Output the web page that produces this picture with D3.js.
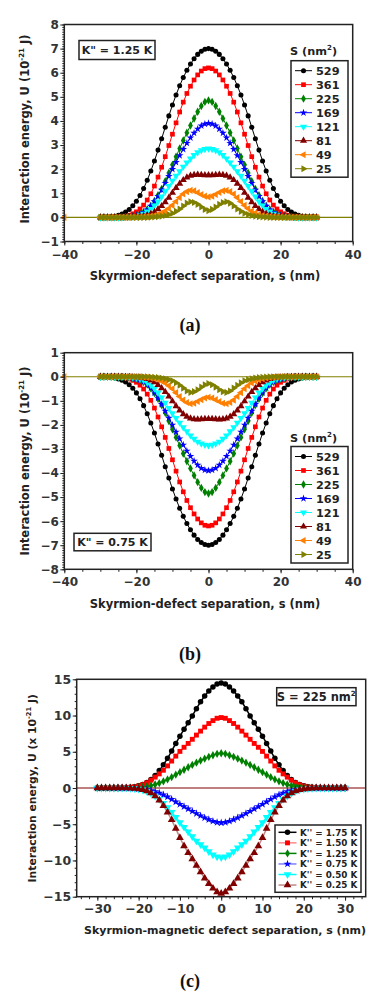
<!DOCTYPE html>
<html><head><meta charset="utf-8">
<script src="https://cdn.jsdelivr.net/npm/d3@7"></script>
<style>
body{margin:0;background:#fff}
svg{display:block}
text{font-family:"DejaVu Sans",sans-serif;font-weight:bold}
text.cap{font-family:"Liberation Serif","Times New Roman",serif;font-weight:bold}
</style>
</head><body>
<svg id="fig" width="392" height="1008"></svg>
<script>
// ---------------- DATA ----------------
// sample positions (nm): -30..30, 1 nm step; half arrays give s = 0..30 (curves are symmetric)
const separation = d3.range(-30, 31);
const areaLabels = ["529", "361", "225", "169", "121", "81", "49", "25"];

// Panel (a): K'' = 1.25 K, U in 1e-21 J, values at s = 0,1,...,30
const a529 = [7.00,6.97,6.89,6.76,6.58,6.36,6.10,5.80,5.46,5.08,4.66,4.21,3.74,3.26,2.79,2.34,1.92,1.54,1.20,0.91,0.67,0.48,0.33,0.22,0.14,0.09,0.05,0.03,0.02,0.01,0.00];
const a361 = [6.20,6.17,6.07,5.91,5.70,5.44,5.14,4.78,4.37,3.92,3.45,2.98,2.52,2.08,1.67,1.30,0.98,0.72,0.51,0.35,0.23,0.15,0.09,0.05,0.03,0.02,0.01,0,0,0,0];
const a225 = [4.85,4.79,4.62,4.38,4.10,3.81,3.51,3.19,2.86,2.52,2.18,1.84,1.50,1.18,0.92,0.68,0.48,0.33,0.22,0.14,0.08,0.05,0.03,0.02,0.01,0,0,0,0,0,0];
const a169 = [3.90,3.87,3.80,3.67,3.50,3.30,3.08,2.83,2.57,2.29,2.00,1.71,1.42,1.14,0.88,0.66,0.47,0.32,0.21,0.13,0.08,0.04,0.02,0.01,0,0,0,0,0,0,0];
const a121 = [2.85,2.83,2.78,2.70,2.58,2.44,2.27,2.10,1.91,1.72,1.52,1.30,1.08,0.86,0.66,0.49,0.35,0.24,0.15,0.09,0.05,0.03,0.02,0.01,0,0,0,0,0,0,0];
const a81  = [1.75,1.75,1.76,1.77,1.76,1.73,1.66,1.55,1.40,1.22,1.02,0.82,0.63,0.47,0.34,0.23,0.15,0.09,0.06,0.03,0.02,0.01,0,0,0,0,0,0,0,0,0];
const a49  = [0.85,0.88,0.95,1.03,1.10,1.12,1.07,0.97,0.82,0.66,0.50,0.37,0.26,0.18,0.12,0.08,0.05,0.03,0.02,0.01,0,0,0,0,0,0,0,0,0,0,0];
const a25  = [0.28,0.33,0.43,0.54,0.62,0.65,0.59,0.47,0.35,0.25,0.17,0.12,0.08,0.05,0.03,0.02,0.01,0,0,0,0,0,0,0,0,0,0,0,0,0,0];

// Panel (b): K'' = 0.75 K
const b529 = [-7.00,-6.97,-6.89,-6.76,-6.58,-6.36,-6.10,-5.80,-5.46,-5.08,-4.66,-4.21,-3.74,-3.26,-2.79,-2.34,-1.92,-1.54,-1.20,-0.91,-0.67,-0.48,-0.33,-0.22,-0.14,-0.09,-0.05,-0.03,-0.02,-0.01,0];
const b361 = [-6.20,-6.17,-6.07,-5.91,-5.70,-5.44,-5.14,-4.78,-4.37,-3.92,-3.45,-2.98,-2.52,-2.08,-1.67,-1.30,-0.98,-0.72,-0.51,-0.35,-0.23,-0.15,-0.09,-0.05,-0.03,-0.02,-0.01,0,0,0,0];
const b225 = [-4.85,-4.79,-4.62,-4.38,-4.10,-3.81,-3.51,-3.19,-2.86,-2.52,-2.18,-1.84,-1.50,-1.18,-0.92,-0.68,-0.48,-0.33,-0.22,-0.14,-0.08,-0.05,-0.03,-0.02,-0.01,0,0,0,0,0,0];
const b169 = [-3.90,-3.87,-3.80,-3.67,-3.50,-3.30,-3.08,-2.83,-2.57,-2.29,-2.00,-1.71,-1.42,-1.14,-0.88,-0.66,-0.47,-0.32,-0.21,-0.13,-0.08,-0.04,-0.02,-0.01,0,0,0,0,0,0,0];
const b121 = [-2.85,-2.83,-2.78,-2.70,-2.58,-2.44,-2.27,-2.10,-1.91,-1.72,-1.52,-1.30,-1.08,-0.86,-0.66,-0.49,-0.35,-0.24,-0.15,-0.09,-0.05,-0.03,-0.02,-0.01,0,0,0,0,0,0,0];
const b81  = [-1.75,-1.75,-1.76,-1.77,-1.76,-1.73,-1.66,-1.55,-1.40,-1.22,-1.02,-0.82,-0.63,-0.47,-0.34,-0.23,-0.15,-0.09,-0.06,-0.03,-0.02,-0.01,0,0,0,0,0,0,0,0,0];
const b49  = [-0.85,-0.88,-0.95,-1.03,-1.10,-1.12,-1.07,-0.97,-0.82,-0.66,-0.50,-0.37,-0.26,-0.18,-0.12,-0.08,-0.05,-0.03,-0.02,-0.01,0,0,0,0,0,0,0,0,0,0,0];
const b25  = [-0.28,-0.33,-0.43,-0.54,-0.62,-0.65,-0.59,-0.47,-0.35,-0.25,-0.17,-0.12,-0.08,-0.05,-0.03,-0.02,-0.01,0,0,0,0,0,0,0,0,0,0,0,0,0,0];

// Panel (c): S = 225 nm^2, various K''
const kLabels = ["K'' = 1.75 K", "K'' = 1.50 K", "K'' = 1.25 K", "K'' = 0.75 K", "K'' = 0.50 K", "K'' = 0.25 K"];
const c175 = [14.50,14.35,13.95,13.40,12.70,11.90,10.95,9.95,9.00,8.10,7.15,6.15,5.10,4.10,3.20,2.40,1.72,1.18,0.76,0.48,0.30,0.18,0.10,0.06,0.03,0.02,0.01,0,0,0,0];
const c150 = [9.72,9.62,9.30,8.90,8.40,7.85,7.30,6.72,6.15,5.62,5.05,4.40,3.72,3.05,2.45,1.95,1.50,1.08,0.72,0.46,0.28,0.16,0.09,0.05,0.03,0.01,0,0,0,0,0];
const c125 = [4.80,4.72,4.52,4.30,4.05,3.78,3.50,3.18,2.86,2.52,2.18,1.84,1.50,1.18,0.92,0.68,0.48,0.33,0.22,0.14,0.08,0.05,0.03,0.02,0.01,0,0,0,0,0,0];
const c075 = [-4.80,-4.74,-4.58,-4.36,-4.10,-3.82,-3.52,-3.20,-2.88,-2.56,-2.24,-1.90,-1.55,-1.22,-0.94,-0.70,-0.50,-0.34,-0.22,-0.13,-0.07,-0.04,-0.02,-0.01,0,0,0,0,0,0,0];
const c050 = [-9.60,-9.50,-9.20,-8.75,-8.25,-7.80,-7.30,-6.70,-6.05,-5.40,-4.75,-4.05,-3.35,-2.70,-2.10,-1.55,-1.10,-0.72,-0.44,-0.25,-0.13,-0.06,-0.03,-0.01,0,0,0,0,0,0,0];
const c025 = [-14.55,-14.35,-13.85,-13.20,-12.45,-11.60,-10.70,-9.80,-8.95,-8.00,-6.85,-5.60,-4.40,-3.35,-2.45,-1.70,-1.12,-0.70,-0.42,-0.24,-0.13,-0.07,-0.03,-0.01,0,0,0,0,0,0,0];

// ticks
const xTicksAB = [-40, -20, 0, 20, 40];
const xMinorAB = d3.range(-40, 41, 5);
const yTicksA = d3.range(-1, 9);
const yTicksB = d3.range(-8, 2);
const xTicksC = [-30, -20, -10, 0, 10, 20, 30];
const xMinorC = d3.range(-34, 35, 2);
const yTicksC = [-15, -10, -5, 0, 5, 10, 15];
const yMinorC = d3.range(-15, 16, 1);
const edgePointA = [-40]; // extra zero-valued point of the 49 nm^2 series at the plot edge

// ---------------- STYLES ----------------
const colorsAB = ["#000000", "#ff0000", "#008000", "#0000ff", "#00ffff", "#800000", "#ff8000", "#808000"];
const symsAB = [
  {t: d3.symbolCircle, s: 20, r: 0}, {t: d3.symbolSquare, s: 22, r: 0},
  {t: d3.symbolDiamond, s: 20, r: 0}, {t: d3.symbolStar, s: 18, r: 0},
  {t: d3.symbolTriangle, s: 22, r: 180}, {t: d3.symbolTriangle, s: 22, r: 0},
  {t: d3.symbolTriangle, s: 22, r: -90}, {t: d3.symbolTriangle, s: 22, r: 90}
];
const colorsC = ["#000000", "#ff0000", "#008000", "#0000ff", "#00ffff", "#800000"];
const lineColorsC = ["#000000", "#ff8a8a", "#008000", "#7f7fff", "#00ffff", "#c08a8a"];
const symsC = [
  {t: d3.symbolCircle, s: 24, r: 0}, {t: d3.symbolSquare, s: 24, r: 0},
  {t: d3.symbolDiamond, s: 20, r: 0}, {t: d3.symbolStar, s: 20, r: 0},
  {t: d3.symbolTriangle, s: 26, r: 180}, {t: d3.symbolTriangle, s: 26, r: 0}
];

const svg = d3.select("#fig");
const mirror = h => h.slice(1).reverse().concat(h);

function rich(sel, parts, fs) {
  parts.forEach(p => {
    const ts = sel.append("tspan").text(p.t);
    if (p.sup) ts.attr("font-size", fs * 0.62).attr("dy", -fs * 0.4);
    else if (p.after) ts.attr("dy", fs * 0.4);
  });
}

function drawSeries(g, x, y, ys, color, lineColor, lw, sym) {
  const line = d3.line().x((d, i) => x(separation[i])).y(d => y(d));
  g.append("path").attr("d", line(ys)).attr("fill", "none")
    .attr("stroke", lineColor).attr("stroke-width", lw);
  const p = d3.symbol(sym.t, sym.s)();
  g.append("g").selectAll("path").data(ys).join("path")
    .attr("d", p).attr("fill", color)
    .attr("transform", (d, i) => `translate(${x(separation[i])},${y(d)}) rotate(${sym.r})`);
}

function axes(cfg, x, y) {
  const g = svg.append("g");
  const fs = cfg.tickFs;
  const xa = g.append("g").attr("transform", `translate(0,${cfg.bottom})`)
    .call(d3.axisBottom(x).tickValues(cfg.xTicks).tickSize(4).tickPadding(cfg.xPad).tickFormat(d3.format("d")));
  const xm = g.append("g").attr("transform", `translate(0,${cfg.bottom})`)
    .call(d3.axisBottom(x).tickValues(cfg.xMinor).tickSize(2.5).tickFormat(""));
  const ya = g.append("g").attr("transform", `translate(${cfg.left},0)`)
    .call(d3.axisLeft(y).tickValues(cfg.yTicks).tickSize(4).tickPadding(1.5).tickFormat(d3.format("d")));
  const ym = g.append("g").attr("transform", `translate(${cfg.left},0)`)
    .call(d3.axisLeft(y).tickValues(cfg.yMinor).tickSize(2).tickFormat(""));
  [xa, xm, ya, ym].forEach(a => {
    a.select(".domain").remove();
    a.selectAll("line").attr("stroke", "#222").attr("stroke-width", 1);
    a.selectAll("text").attr("font-size", fs).attr("fill", "#333")
      .attr("font-family", "DejaVu Sans").attr("font-weight", "bold");
  });
  svg.append("rect").attr("x", cfg.left).attr("y", cfg.top)
    .attr("width", cfg.right - cfg.left).attr("height", cfg.bottom - cfg.top)
    .attr("fill", "none").attr("stroke", "#222").attr("stroke-width", 1.5);
}

function caption(txt, cx, cy) {
  svg.append("text").attr("class", "cap").attr("x", cx).attr("y", cy).attr("text-anchor", "middle")
    .attr("font-size", 18).attr("fill", "#111").text(txt);
}

// ---------------- PANEL (a) & (b) ----------------
function panelAB(cfg) {
  const x = d3.scaleLinear().domain([-40, 40]).range([cfg.left, cfg.right]);
  const y = d3.scaleLinear().domain(cfg.yDomain).range([cfg.bottom, cfg.top]);
  const g = svg.append("g");
  g.append("line").attr("x1", x(-40)).attr("x2", x(40)).attr("y1", y(0)).attr("y2", y(0))
    .attr("stroke", "#808000").attr("stroke-width", 1.2);
  g.selectAll(".edge").data(edgePointA).join("path")
    .attr("d", d3.symbol(symsAB[6].t, symsAB[6].s)()).attr("fill", colorsAB[6])
    .attr("transform", d => `translate(${x(d)},${y(0)}) rotate(-90)`);
  cfg.series.forEach((h, i) => drawSeries(g, x, y, mirror(h), colorsAB[i], colorsAB[i], 1, symsAB[i]));
  axes({left: cfg.left, right: cfg.right, top: cfg.top, bottom: cfg.bottom, xTicks: xTicksAB, xMinor: xMinorAB,
        yTicks: cfg.yTicks, yMinor: cfg.yMinor, tickFs: 12, xPad: 4.5}, x, y);

  const yt = svg.append("text").attr("transform", `translate(${cfg.yTitleX},${cfg.yTitleY}) rotate(-90)`)
    .attr("text-anchor", "middle").attr("font-size", 11.5).attr("fill", "#222");
  rich(yt, [{t: "Interaction energy, U (10"}, {t: "-21", sup: true}, {t: " J)", after: true}], 11.5);
  svg.append("text").attr("x", cfg.xTitleX).attr("y", cfg.xTitleY).attr("text-anchor", "middle")
    .attr("font-size", 11.5).attr("fill", "#222").text("Skyrmion-defect separation, s (nm)");

  svg.append("rect").attr("x", cfg.kBox[0]).attr("y", cfg.kBox[1]).attr("width", cfg.kBox[2]).attr("height", cfg.kBox[3])
    .attr("fill", "#fff").attr("stroke", "#222").attr("stroke-width", 1.5);
  svg.append("text").attr("x", cfg.kBox[0] + cfg.kBox[2] / 2).attr("y", cfg.kBox[1] + cfg.kBox[3] / 2 + 4)
    .attr("text-anchor", "middle").attr("font-size", 11).attr("fill", "#222").text(cfg.kText);

  const lt = svg.append("text").attr("x", 313.5).attr("y", cfg.legTitleY).attr("text-anchor", "middle")
    .attr("font-size", 11.3).attr("fill", "#222");
  rich(lt, [{t: "S (nm"}, {t: "2", sup: true}, {t: ")", after: true}], 11.3);
  svg.append("rect").attr("x", 291).attr("y", cfg.legTop).attr("width", 57).attr("height", 116.5)
    .attr("fill", "#fff").attr("stroke", "#222").attr("stroke-width", 1.5);
  const lg = svg.append("g");
  areaLabels.forEach((lab, i) => {
    const yy = cfg.legTop + 10 + i * 14;
    lg.append("line").attr("x1", 295).attr("x2", 312).attr("y1", yy).attr("y2", yy)
      .attr("stroke", colorsAB[i]).attr("stroke-width", 1);
    lg.append("path").attr("d", d3.symbol(symsAB[i].t, symsAB[i].s)()).attr("fill", colorsAB[i])
      .attr("transform", `translate(303.5,${yy}) rotate(${symsAB[i].r})`);
    lg.append("text").attr("x", 316).attr("y", yy + 4).attr("font-size", 11.3).attr("fill", "#222").text(lab);
  });
  caption(cfg.cap, 190, cfg.capY);
}

panelAB({left: 64.3, right: 352.7, top: 24.5, bottom: 241.5, yDomain: [-1, 8], yTicks: yTicksA,
  yMinor: d3.range(-10, 81).map(v => v / 10),
  series: [a529, a361, a225, a169, a121, a81, a49, a25],
  yTitleX: 29, yTitleY: 129, xTitleX: 205, xTitleY: 279.5,
  kBox: [79, 40.5, 76, 19], kText: 'K" = 1.25 K',
  legTitleY: 54.5, legTop: 60.7, cap: "(a)", capY: 331});

panelAB({left: 64.3, right: 352.7, top: 352.7, bottom: 569.3, yDomain: [-8, 1], yTicks: yTicksB,
  yMinor: d3.range(-80, 11).map(v => v / 10),
  series: [b529, b361, b225, b169, b121, b81, b49, b25],
  yTitleX: 29, yTitleY: 461, xTitleX: 205, xTitleY: 607.5,
  kBox: [74, 533.3, 77, 17.5], kText: 'K" = 0.75 K',
  legTitleY: 441.5, legTop: 446.5, cap: "(b)", capY: 660});

// ---------------- PANEL (c) ----------------
(function () {
  const cfg = {left: 76.7, right: 365.7, top: 679.3, bottom: 896.7};
  const x = d3.scaleLinear().domain([-35, 35]).range([cfg.left, cfg.right]);
  const y = d3.scaleLinear().domain([-15, 15]).range([cfg.bottom, cfg.top]);
  const g = svg.append("g");
  g.append("line").attr("x1", x(-35)).attr("x2", x(35)).attr("y1", y(0)).attr("y2", y(0))
    .attr("stroke", "#800000").attr("stroke-width", 1.2);
  [c175, c150, c125, c075, c050, c025].forEach((h, i) =>
    drawSeries(g, x, y, mirror(h), colorsC[i], lineColorsC[i], 1.5, symsC[i]));
  axes(Object.assign({xTicks: xTicksC, xMinor: xMinorC, yTicks: yTicksC, yMinor: yMinorC, tickFs: 12.5, xPad: 3}, cfg), x, y);

  const yt = svg.append("text").attr("transform", `translate(35.5,788.3) rotate(-90)`)
    .attr("text-anchor", "middle").attr("font-size", 10.8).attr("fill", "#222");
  rich(yt, [{t: "Interaction energy, U (x 10"}, {t: "-21", sup: true}, {t: " J)", after: true}], 10.8);
  svg.append("text").attr("x", 225).attr("y", 934).attr("text-anchor", "middle")
    .attr("font-size", 11).attr("fill", "#222").text("Skyrmion-magnetic defect separation, s (nm)");

  svg.append("rect").attr("x", 276.7).attr("y", 687.7).attr("width", 79.3).attr("height", 18)
    .attr("fill", "#fff").attr("stroke", "#222").attr("stroke-width", 1.5);
  const st = svg.append("text").attr("x", 316.3).attr("y", 701).attr("text-anchor", "middle")
    .attr("font-size", 11.5).attr("fill", "#222");
  rich(st, [{t: "S = 225 nm"}, {t: "2", sup: true}], 11.5);

  svg.append("rect").attr("x", 275).attr("y", 825).attr("width", 86).attr("height", 67.3)
    .attr("fill", "#fff").attr("stroke", "#222").attr("stroke-width", 1.5);
  kLabels.forEach((lab, i) => {
    const yy = 832.3 + i * 10.55;
    svg.append("line").attr("x1", 278.5).attr("x2", 296.5).attr("y1", yy).attr("y2", yy)
      .attr("stroke", lineColorsC[i]).attr("stroke-width", 1.5);
    svg.append("path").attr("d", d3.symbol(symsC[i].t, symsC[i].s)()).attr("fill", colorsC[i])
      .attr("transform", `translate(287.5,${yy}) rotate(${symsC[i].r})`);
    svg.append("text").attr("x", 300).attr("y", yy + 3.3).attr("font-size", 8.8).attr("fill", "#222").text(lab);
  });
  caption("(c)", 190, 987);
})();
</script>
</body></html>
